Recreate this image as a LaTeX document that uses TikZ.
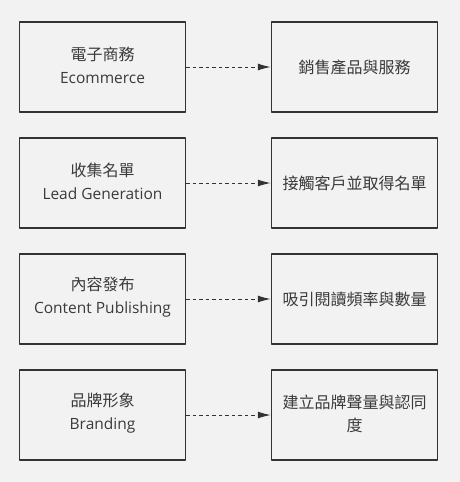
\documentclass[tikz,border=0pt]{standalone}
\usepackage{fontspec}
\setmainfont{Open Sans}
\newfontfamily\cjk{Noto Sans CJK TC}
\usetikzlibrary{arrows.meta,positioning}
\definecolor{bgc}{HTML}{F2F2F2}
\definecolor{linec}{HTML}{333333}
\definecolor{textc}{HTML}{3A3A3A}
\newcommand{\zh}[1]{{\cjk\fontsize{16}{23}\selectfont #1}}

\tikzset{
  goalbox/.style={draw=linec,line width=1.5pt,minimum width=166pt,minimum height=90pt,
    align=center,text=textc,font=\fontsize{15.5}{23}\selectfont,inner sep=0pt},
  txt/.style={align=center,text=textc,font=\fontsize{15.5}{23}\selectfont,inner sep=0pt},
  flow/.style={dash pattern=on 3.5pt off 3pt,line width=1pt,draw=linec,line cap=butt,
    -{Latex[length=13pt,width=7pt]}}
}

\begin{document}
\begin{tikzpicture}[line cap=round,line join=round,x=1pt,y=-1pt]
                \fill [bgc] (0,0) rectangle (460,482);
                \useasboundingbox (0,0) rectangle (460,482);
                % left column
                \node [goalbox] (ecom) at (102.5,67) {};
                \node [goalbox] (lead) at (102.5,183) {};
                \node [goalbox] (cont) at (102.5,299) {};
                \node [goalbox] (brand) at (102.5,415) {};
                \node [txt] (ecomt) at ([yshift=1.5pt]ecom.center) {\zh{電子商務}\\Ecommerce};
                \node [txt] (leadt) at ([yshift=1.5pt]lead.center) {\zh{收集名單}\\Lead Generation};
                \node [txt] (contt) at ([yshift=1.5pt]cont.center) {\zh{內容發布}\\Content Publishing};
                \node [txt] (brandt) at ([yshift=1.5pt]brand.center) {\zh{品牌形象}\\Branding};
                % right column
                \node [goalbox] (sell) at (354.5,67) {\zh{銷售產品與服務}};
                \node [goalbox] (reach) at (354.5,183) {\zh{接觸客戶並取得名單}};
                \node [goalbox] (read) at (354.5,299) {\zh{吸引閱讀頻率與數量}};
                \node [goalbox] (voice) at (354.5,415) {};
                \node [txt] (voicet) at ([yshift=1.5pt]voice.center) {\zh{建立品牌聲量與認同}\\\zh{度}};
                \draw [flow] (ecom) -- (sell);
                \draw [flow] (lead) -- (reach);
                \draw [flow] (cont) -- (read);
                \draw [flow] (brand) -- (voice);
\end{tikzpicture}
\end{document}
